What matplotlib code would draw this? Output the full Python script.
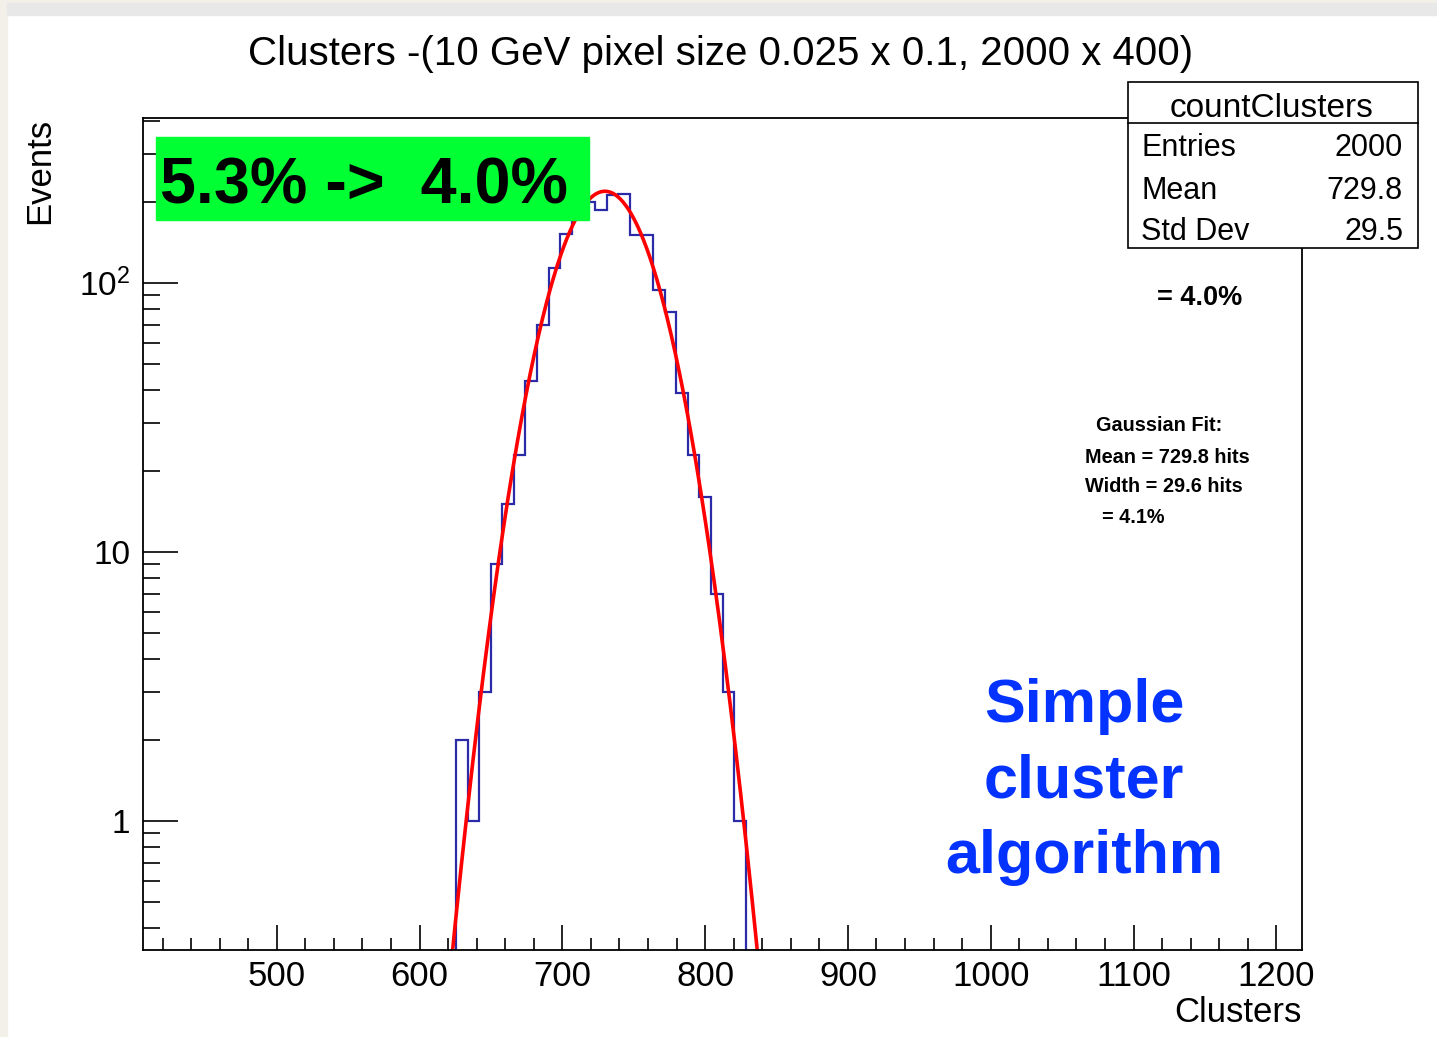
import numpy as np
import matplotlib
matplotlib.use('Agg')
import matplotlib.pyplot as plt
from matplotlib.patches import Rectangle
from matplotlib.lines import Line2D
from matplotlib.ticker import (FixedLocator, FixedFormatter, MultipleLocator,
                               LogLocator, NullFormatter)

plt.rcParams['font.family'] = ['Liberation Sans', 'DejaVu Sans']
plt.rcParams['mathtext.fontset'] = 'custom'
plt.rcParams['mathtext.rm'] = 'Liberation Sans'
plt.rcParams['mathtext.it'] = 'Liberation Sans:italic'

# histogram: 100 bins, only bins 27..51 are filled
N_BINS = 100
X_LO, X_HI = 406.3, 1218.0
FIRST_BIN = 27
counts = [2, 1, 3, 9, 15, 23, 43, 70, 114, 152, 185, 199, 187,
          212, 214, 150, 150, 94, 78, 39, 23, 16, 7, 3, 1]

# gaussian fit parameters
fit_const = 219.0
fit_mean = 729.8
fit_sigma = 29.6

y_ticks = [1, 10, 100]
y_tick_labels = ['1', '10', '$10^{2}$']

stats_title = 'countClusters'
stats_labels = ['Entries', 'Mean', 'Std Dev']
stats_values = ['2000', '729.8', '29.5']

title = 'Clusters -(10 GeV pixel size 0.025 x 0.1, 2000 x 400)'

W, H = 1437, 1037
fig = plt.figure(figsize=(W / 100, H / 100), dpi=100)
fig.patch.set_facecolor('white')


def fx(px):
    return px / W


def fy(py):
    return 1 - py / H


# window border strips
fig.add_artist(Rectangle((0, 0), fx(7), 1, transform=fig.transFigure,
                         color='#f3f0ea', zorder=0))
fig.add_artist(Rectangle((0, fy(3)), 1, 1 - fy(3), transform=fig.transFigure,
                         color='#f3f0ea', zorder=0))
fig.add_artist(Rectangle((fx(7), fy(15)), 1, fy(3) - fy(15),
                         transform=fig.transFigure, color='#e8e8e8', zorder=0))

ax = fig.add_axes([fx(143), fy(950), fx(1302) - fx(143), fy(118) - fy(950)])
ax.set_yscale('log')
ax.set_xlim(X_LO, X_HI)
ax.set_ylim(0.331, 410)

edges = np.linspace(X_LO, X_HI, N_BINS + 1)
filled_edges = edges[FIRST_BIN:FIRST_BIN + len(counts) + 1]
ax.stairs(counts, filled_edges, baseline=1e-3, color='#2b2ba8', lw=1.6)

xs = np.linspace(X_LO, X_HI, 2000)
ys = fit_const * np.exp(-0.5 * ((xs - fit_mean) / fit_sigma) ** 2)
ax.plot(xs, ys, color='#ff0000', lw=2.6)

ax.xaxis.set_major_locator(MultipleLocator(100))
ax.xaxis.set_minor_locator(MultipleLocator(20))
ax.yaxis.set_major_locator(FixedLocator(y_ticks))
ax.yaxis.set_major_formatter(FixedFormatter(y_tick_labels))
ax.yaxis.set_minor_locator(LogLocator(base=10, subs=range(2, 10)))
ax.yaxis.set_minor_formatter(NullFormatter())

ax.tick_params(axis='x', which='major', direction='in', length=18, width=1.2,
               labelsize=25, pad=7, top=False)
ax.tick_params(axis='x', which='minor', direction='in', length=8.5, width=1.2,
               top=False)
ax.tick_params(axis='y', which='major', direction='in', length=25, width=1.2,
               labelsize=24, pad=9, right=False)
ax.tick_params(axis='y', which='minor', direction='in', length=12, width=1.2,
               right=False)
for s in ax.spines.values():
    s.set_linewidth(1.3)

fig.text(fx(721), fy(65), title, ha='center', va='baseline', fontsize=29)
fig.text(fx(40), fy(118), 'Events', rotation=90, ha='center', va='top',
         fontsize=25)
fig.text(fx(1302), fy(1022), 'Clusters', ha='right', va='baseline',
         fontsize=25)

# resolution banner
fig.add_artist(Rectangle((fx(156), fy(220)), fx(589) - fx(156),
                         fy(137) - fy(220), transform=fig.transFigure,
                         color='#00ff33', zorder=5))
fig.text(fx(160), fy(203), '5.3% ->  4.0%', ha='left', va='baseline',
         fontsize=46.5, fontweight='bold', color='black', zorder=6)

# statistics box
fig.add_artist(Rectangle((fx(1128), fy(248)), fx(1418) - fx(1128),
                         fy(82) - fy(248), transform=fig.transFigure,
                         facecolor='white', edgecolor='black', lw=1.2,
                         zorder=5))
fig.add_artist(Line2D([fx(1128), fx(1418)], [fy(123), fy(123)],
                      transform=fig.transFigure, color='black', lw=1.2,
                      zorder=6))
fig.text(fx(1272), fy(117), stats_title, ha='center', va='baseline',
         fontsize=24, zorder=7)
for lab, val, base in zip(stats_labels, stats_values, [156, 199, 240]):
    fig.text(fx(1141), fy(base), lab, ha='left', va='baseline',
             fontsize=22, zorder=7)
    fig.text(fx(1403), fy(base), val, ha='right', va='baseline',
             fontsize=22, zorder=7)

fig.text(fx(1157), fy(305), '= 4.0%', ha='left', va='baseline',
         fontsize=19.5, fontweight='bold')

fit_text = [('Gaussian Fit:', 1096, 431),
            ('Mean = %.1f hits' % fit_mean, 1085, 463),
            ('Width = %.1f hits' % fit_sigma, 1085, 492),
            ('= 4.1%', 1102, 523)]
for txt, px, py in fit_text:
    fig.text(fx(px), fy(py), txt, ha='left', va='baseline', fontsize=14.3,
             fontweight='bold')

for txt, py in [('Simple', 722), ('cluster', 797), ('algorithm', 873)]:
    fig.text(fx(1084), fy(py), txt, ha='center', va='baseline', fontsize=44,
             fontweight='bold', color='#0433ff')

fig.savefig('out.png', dpi=100, facecolor=fig.get_facecolor())
